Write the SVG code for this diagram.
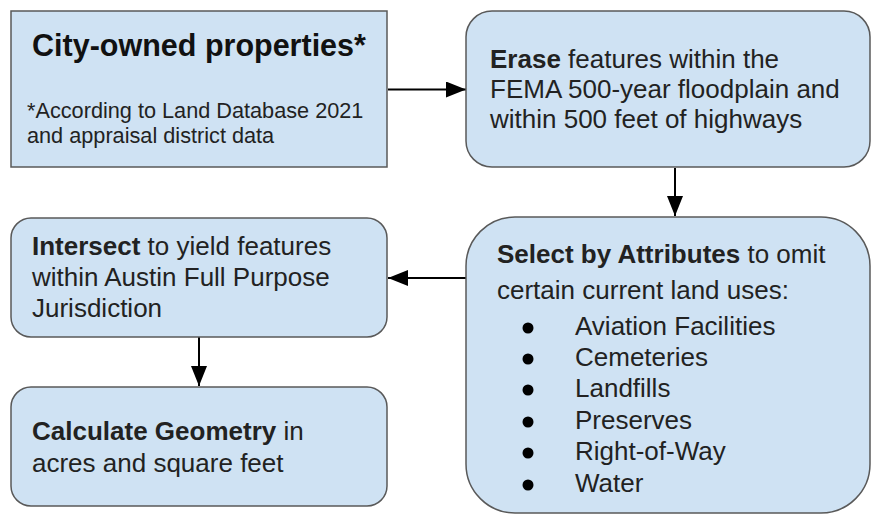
<svg xmlns="http://www.w3.org/2000/svg" width="872" height="515" viewBox="0 0 872 515">
<style>
.box{fill:#cfe2f3;stroke:#595959;stroke-width:1.5}
.t{font-family:"Liberation Sans",Arial,sans-serif;font-size:26px;fill:#222}
.b{font-weight:bold}
.fn{font-family:"Liberation Sans",Arial,sans-serif;font-size:21.7px;fill:#222}
.title{font-family:"Liberation Sans",Arial,sans-serif;font-size:30.5px;font-weight:bold;fill:#111}
.conn{stroke:#000;stroke-width:2;fill:none}
.bul{fill:#000}
</style>
<defs>
<marker id="ah" viewBox="0 0 20 16" refX="20" refY="8" markerWidth="20" markerHeight="16" markerUnits="userSpaceOnUse" orient="auto">
<path d="M0,0 L20,8 L0,16 Z" fill="#000"/>
</marker>
</defs>
<g id="connectors">
<line class="conn" x1="388" y1="89.5" x2="466" y2="89.5" marker-end="url(#ah)"/>
<line class="conn" x1="675" y1="168" x2="675" y2="216" marker-end="url(#ah)"/>
<line class="conn" x1="466" y1="278" x2="388" y2="278" marker-end="url(#ah)"/>
<line class="conn" x1="199" y1="337" x2="199" y2="386" marker-end="url(#ah)"/>
</g>
<g id="node-city">
<rect class="box" x="11" y="11" width="376" height="156"/>
<text class="title" x="199" y="56" text-anchor="middle">City-owned properties*</text>
<text class="fn" x="27" y="118">*According to Land Database 2021</text>
<text class="fn" x="27" y="143">and appraisal district data</text>
</g>
<g id="node-erase">
<rect class="box" x="466" y="11" width="404" height="156" rx="26" ry="26"/>
<text class="t" x="490" y="68"><tspan class="b">Erase</tspan> features within the</text>
<text class="t" x="490" y="98">FEMA 500-year floodplain and</text>
<text class="t" x="490" y="128">within 500 feet of highways</text>
</g>
<g id="node-select">
<rect class="box" x="466" y="217" width="404" height="296" rx="49" ry="49"/>
<text class="t" x="497" y="263"><tspan class="b">Select by Attributes</tspan> to omit</text>
<text class="t" x="497" y="299">certain current land uses:</text>
<circle class="bul" cx="528" cy="328" r="5.5"/>
<circle class="bul" cx="528" cy="359" r="5.5"/>
<circle class="bul" cx="528" cy="390" r="5.5"/>
<circle class="bul" cx="528" cy="422" r="5.5"/>
<circle class="bul" cx="528" cy="453" r="5.5"/>
<circle class="bul" cx="528" cy="485" r="5.5"/>
<text class="t" x="575" y="335">Aviation Facilities</text>
<text class="t" x="575" y="366">Cemeteries</text>
<text class="t" x="575" y="397">Landfills</text>
<text class="t" x="575" y="429">Preserves</text>
<text class="t" x="575" y="460">Right-of-Way</text>
<text class="t" x="575" y="492">Water</text>
</g>
<g id="node-intersect">
<rect class="box" x="11" y="218" width="376" height="119" rx="20" ry="20"/>
<text class="t" x="32" y="255"><tspan class="b">Intersect</tspan> to yield features</text>
<text class="t" x="32" y="286">within Austin Full Purpose</text>
<text class="t" x="32" y="317">Jurisdiction</text>
</g>
<g id="node-calc">
<rect class="box" x="11" y="387" width="376" height="119" rx="20" ry="20"/>
<text class="t" x="32" y="440"><tspan class="b">Calculate Geometry</tspan> in</text>
<text class="t" x="32" y="472">acres and square feet</text>
</g>
</svg>
